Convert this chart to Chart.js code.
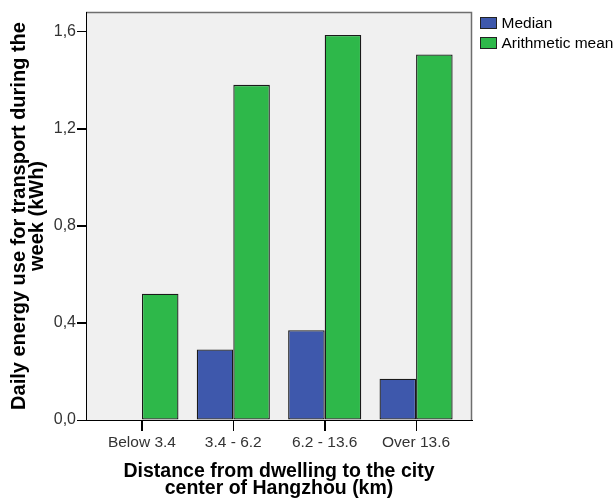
<!DOCTYPE html>
<html><head><meta charset="utf-8">
<script src="https://cdn.jsdelivr.net/npm/chart.js@4"></script>
<style>html,body{margin:0;padding:0;background:#fff}#wrap{width:616px;height:503px;position:relative}</style>
</head><body><div id="wrap"><canvas id="c" width="616" height="503"></canvas></div>
<script>
const categories = ['Below 3.4', '3.4 - 6.2', '6.2 - 13.6', 'Over 13.6'];
const seriesNames = ['Median', 'Arithmetic mean'];
const medianValues = [0.0, 0.29, 0.37, 0.17];
const meanValues = [0.52, 1.38, 1.585, 1.505];
const yTicks = [0, 0.4, 0.8, 1.2, 1.6];
const yTitle = ['Daily energy use for transport during the', 'week (kWh)'];
const xTitle = ['Distance from dwelling to the city', 'center of Hangzhou (km)'];

const colors = ['#3e58ac', '#2eb84a'];
const FONT = '"Liberation Sans", Arial, sans-serif';

function toPoints(vals) { return vals.map((v, i) => ({ x: i, y: v })); }

const plotBg = {
  id: 'plotBg',
  beforeDraw(chart) {
    const { ctx, chartArea: a } = chart;
    ctx.save();
    ctx.fillStyle = '#f0f0f0';
    ctx.fillRect(a.left, a.top, a.right - a.left, a.bottom - a.top);
    ctx.strokeStyle = '#6e6e6e';
    ctx.lineWidth = 1.5;
    ctx.beginPath();
    ctx.moveTo(a.left, a.top + 0.5);
    ctx.lineTo(a.right - 0.5, a.top + 0.5);
    ctx.lineTo(a.right - 0.5, a.bottom);
    ctx.stroke();
    ctx.restore();
  }
};

// tick marks at the scales' own tick positions
const tickMarks = {
  id: 'tickMarks',
  afterDraw(chart) {
    const { ctx, chartArea: a, scales } = chart;
    ctx.save();
    ctx.strokeStyle = '#000';
    ctx.lineWidth = 1;
    ctx.beginPath();
    scales.x.ticks.forEach(t => {
      const px = Math.round(scales.x.getPixelForValue(t.value)) + 0.5;
      ctx.moveTo(px, a.bottom);
      ctx.lineTo(px, a.bottom + 11);
    });
    scales.y.ticks.forEach(t => {
      const py = Math.round(scales.y.getPixelForValue(t.value)) + 0.5;
      ctx.moveTo(a.left, py);
      ctx.lineTo(a.left - 9, py);
    });
    ctx.stroke();
    ctx.restore();
  }
};

const customLegend = {
  id: 'customLegend',
  afterDraw(chart) {
    const { ctx, chartArea: a } = chart;
    ctx.save();
    ctx.font = '15.5px ' + FONT;
    ctx.textBaseline = 'middle';
    ctx.textAlign = 'left';
    seriesNames.forEach((name, i) => {
      const x = a.right + 8.5, y = 17.5 + i * 20;
      ctx.fillStyle = colors[i];
      ctx.fillRect(x, y, 16, 11);
      ctx.strokeStyle = '#222';
      ctx.lineWidth = 1;
      ctx.strokeRect(x, y, 16, 11);
      ctx.fillStyle = '#000';
      ctx.fillText(name, x + 21, y + 6);
    });
    ctx.restore();
  }
};

new Chart(document.getElementById('c'), {
  type: 'bar',
  data: {
    datasets: [
      { label: seriesNames[0], data: toPoints(medianValues), backgroundColor: colors[0] },
      { label: seriesNames[1], data: toPoints(meanValues), backgroundColor: colors[1] }
    ]
  },
  options: {
    responsive: false,
    animation: false,
    devicePixelRatio: 1,
    layout: { padding: { top: 12, right: 144, left: 0, bottom: 0 } },
    datasets: { bar: { borderColor: '#1a1a1a', borderWidth: 1.3, borderSkipped: false, categoryPercentage: 0.8, barPercentage: 1.0 } },
    plugins: { legend: { display: false }, tooltip: { enabled: false } },
    scales: {
      x: {
        type: 'linear',
        min: -0.612, max: 3.612,
        offset: false,
        afterBuildTicks(s) { s.ticks = categories.map((c, i) => ({ value: i })); },
        afterFit(s) { s.height = 83; },
        ticks: {
          autoSkip: false, maxRotation: 0, padding: 2,
          color: '#333', font: { family: FONT, size: 15.5 },
          callback: (v) => categories[v]
        },
        grid: { display: true, offset: false, drawOnChartArea: false, drawTicks: true, tickLength: 11, color: '#000', lineWidth: 1 },
        border: { display: true, color: '#000', width: 1 },
        title: {
          display: true, text: xTitle, color: '#000',
          font: { family: FONT, size: 19.5, weight: 'bold', lineHeight: 0.88 },
          padding: { top: 6, bottom: 6 }
        }
      },
      y: {
        min: 0, max: 1.68,
        afterBuildTicks(s) { s.ticks = yTicks.map(v => ({ value: v })); },
        afterFit(s) { s.width = 86; },
        ticks: {
          padding: 1, color: '#333', font: { family: FONT, size: 16 },
          callback: (v) => v.toFixed(1).replace('.', ',')
        },
        grid: { display: true, drawOnChartArea: false, drawTicks: true, tickLength: 9, color: '#000', lineWidth: 1 },
        border: { display: true, color: '#000', width: 1 },
        title: {
          display: true, text: yTitle, color: '#000',
          font: { family: FONT, size: 20, weight: 'bold', lineHeight: 0.88 },
          padding: { top: 11, bottom: 2 }
        }
      }
    }
  },
  plugins: [plotBg, tickMarks, customLegend]
});
</script>
</body></html>
